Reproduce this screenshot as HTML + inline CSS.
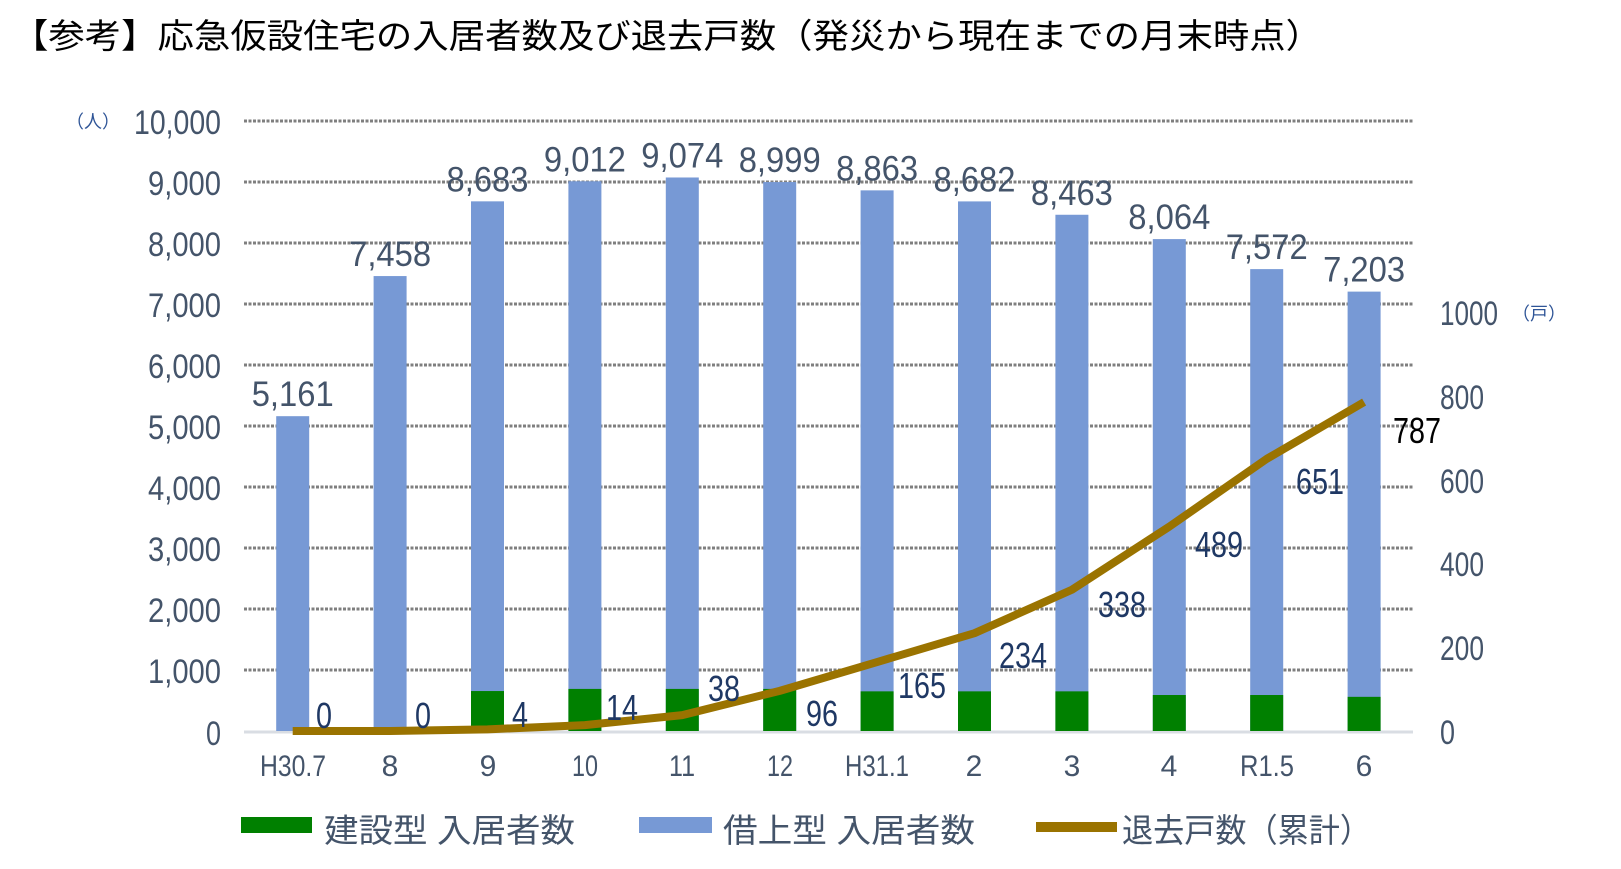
<!DOCTYPE html>
<html><head><meta charset="utf-8"><style>
html,body{margin:0;padding:0;background:#fff;}
svg{display:block;}
text{font-family:"Liberation Sans","Noto Sans CJK JP",sans-serif;}
</style></head><body>
<svg width="1621" height="869" viewBox="0 0 1621 869" xmlns="http://www.w3.org/2000/svg">
<text x="12" y="48" font-size="34" fill="#000" textLength="1310" lengthAdjust="spacingAndGlyphs">【参考】応急仮設住宅の入居者数及び退去戸数（発災から現在までの月末時点）</text>
<g stroke="#7f7f7f" stroke-width="3" stroke-dasharray="3,1.5">
<line x1="244" x2="1413" y1="121" y2="121"/><line x1="244" x2="1413" y1="182" y2="182"/><line x1="244" x2="1413" y1="243" y2="243"/><line x1="244" x2="1413" y1="304" y2="304"/><line x1="244" x2="1413" y1="365" y2="365"/><line x1="244" x2="1413" y1="426" y2="426"/><line x1="244" x2="1413" y1="487" y2="487"/><line x1="244" x2="1413" y1="548" y2="548"/><line x1="244" x2="1413" y1="609" y2="609"/><line x1="244" x2="1413" y1="670" y2="670"/>
</g>
<line x1="244" x2="1413" y1="732" y2="732" stroke="#d9dde3" stroke-width="3"/>
<g font-size="34" fill="#44546A" text-anchor="end">
<text x="221" y="134" textLength="87" lengthAdjust="spacingAndGlyphs">10,000</text>
<text x="221" y="195" textLength="73" lengthAdjust="spacingAndGlyphs">9,000</text>
<text x="221" y="256" textLength="73" lengthAdjust="spacingAndGlyphs">8,000</text>
<text x="221" y="317" textLength="73" lengthAdjust="spacingAndGlyphs">7,000</text>
<text x="221" y="378" textLength="73" lengthAdjust="spacingAndGlyphs">6,000</text>
<text x="221" y="439" textLength="73" lengthAdjust="spacingAndGlyphs">5,000</text>
<text x="221" y="500" textLength="73" lengthAdjust="spacingAndGlyphs">4,000</text>
<text x="221" y="561" textLength="73" lengthAdjust="spacingAndGlyphs">3,000</text>
<text x="221" y="622" textLength="73" lengthAdjust="spacingAndGlyphs">2,000</text>
<text x="221" y="683" textLength="73" lengthAdjust="spacingAndGlyphs">1,000</text>
<text x="221" y="745" textLength="15" lengthAdjust="spacingAndGlyphs">0</text>
</g>
<text x="66" y="128" font-size="18" fill="#2F5597">（人）</text>
<g font-size="34" fill="#44546A">
<text x="1440" y="325" textLength="58" lengthAdjust="spacingAndGlyphs">1000</text><text x="1440" y="409" textLength="44" lengthAdjust="spacingAndGlyphs">800</text><text x="1440" y="493" textLength="44" lengthAdjust="spacingAndGlyphs">600</text><text x="1440" y="576" textLength="44" lengthAdjust="spacingAndGlyphs">400</text><text x="1440" y="660" textLength="44" lengthAdjust="spacingAndGlyphs">200</text><text x="1440" y="744" textLength="15" lengthAdjust="spacingAndGlyphs">0</text>
</g>
<text x="1512" y="320" font-size="18" fill="#2F5597">（戸）</text>
<g id="bars"></g>
<g font-size="30" fill="#44546A" text-anchor="middle">
<text x="293" y="776" textLength="66" lengthAdjust="spacingAndGlyphs">H30.7</text><text x="390" y="776">8</text><text x="488" y="776">9</text><text x="585" y="776" textLength="26" lengthAdjust="spacingAndGlyphs">10</text><text x="682" y="776" textLength="26" lengthAdjust="spacingAndGlyphs">11</text><text x="780" y="776" textLength="26" lengthAdjust="spacingAndGlyphs">12</text><text x="877" y="776" textLength="64" lengthAdjust="spacingAndGlyphs">H31.1</text><text x="974" y="776">2</text><text x="1072" y="776">3</text><text x="1169" y="776">4</text><text x="1267" y="776" textLength="54" lengthAdjust="spacingAndGlyphs">R1.5</text><text x="1364" y="776">6</text>
</g>
<rect x="241" y="817" width="71" height="16" fill="#008000"/>
<text x="324" y="842" font-size="33" fill="#44546A" textLength="251" lengthAdjust="spacingAndGlyphs">建設型 入居者数</text>
<rect x="639" y="817" width="73" height="16" fill="#7799D5"/>
<text x="723" y="842" font-size="33" fill="#44546A" textLength="252" lengthAdjust="spacingAndGlyphs">借上型 入居者数</text>
<rect x="1036" y="822" width="81" height="10" fill="#9A7300"/>
<text x="1122" y="842" font-size="33" fill="#44546A" textLength="249" lengthAdjust="spacingAndGlyphs">退去戸数（累計）</text>
</svg>
<script>
(function(){
var ns="http://www.w3.org/2000/svg",svg=document.querySelector('svg'),g=document.getElementById('bars');
var tot=[5161,7458,8683,9012,9074,8999,8863,8682,8463,8064,7572,7203];
var gr=[0,0,655,690,690,690,650,650,650,590,590,560];
var ln=[0,0,4,14,38,96,165,234,338,489,651,787];
var lp=[[324,715],[423,715],[520,714],[622,707],[724,688],[822,713],[922,685],[1023,655],[1122,604],[1219,544],[1320,481],[1417,430]];
function el(t,a,p){var e=document.createElementNS(ns,t);for(var k in a)e.setAttribute(k,a[k]);(p||g).appendChild(e);return e;}
var pts=[];
for(var i=0;i<12;i++){
 var c=292.7+97.4*i,yt=731-tot[i]*0.061,yg=731-gr[i]*0.061;
 el('rect',{x:c-16.5,y:yt,width:33,height:731-yt,fill:'#7799D5'});
 if(gr[i])el('rect',{x:c-16.5,y:yg,width:33,height:731-yg,fill:'#008000'});
 var t=el('text',{x:c,y:yt-10,'font-size':35,fill:'#44546A','text-anchor':'middle',textLength:82,lengthAdjust:'spacingAndGlyphs'});
 t.textContent=tot[i].toLocaleString('en-US');
}
for(var i=0;i<12;i++){pts.push((292.7+97.4*i)+','+(731-ln[i]*0.418));}
el('polyline',{points:pts.join(' '),fill:'none',stroke:'#9A7300','stroke-width':8,'stroke-linejoin':'round'});
for(var i=0;i<12;i++){
 var t=el('text',{x:lp[i][0],y:lp[i][1]+13,'font-size':36,fill:i==11?'#000':'#1F3864','text-anchor':'middle',textLength:String(ln[i]).length*16,lengthAdjust:'spacingAndGlyphs'});
 t.textContent=ln[i];
}
})();
</script>
</body></html>
